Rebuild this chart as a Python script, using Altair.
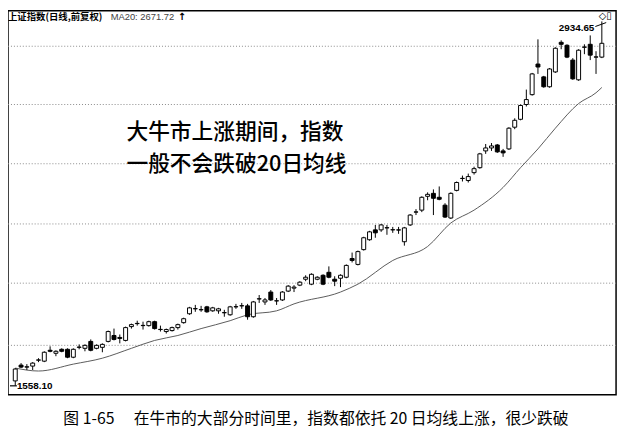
import altair as alt
import pandas as pd

# ---- candle data ----
opens = [1576.2, 1635.9, 1628.4, 1632.2, 1654.5, 1650.8, 1691.9, 1680.6, 1695.6, 1695.6,
         1665.7, 1703.0, 1699.3, 1725.4, 1699.3, 1703.0, 1725.4, 1747.8, 1740.4, 1729.1,
         1781.4, 1792.6, 1785.1, 1785.1, 1800.0, 1770.2, 1762.7, 1766.4, 1777.6, 1796.3,
         1829.9, 1848.5, 1844.8, 1856.0, 1841.0, 1841.0, 1833.6, 1826.1, 1856.0, 1859.7,
         1859.7, 1818.7, 1885.8, 1874.6, 1911.9, 1878.3, 1882.1, 1915.6, 1926.8, 1938.0,
         1960.4, 1941.7, 1960.4, 1975.3, 1986.5, 1960.4, 1964.1, 1967.9, 2038.7, 2016.3,
         2072.3, 2109.6, 2146.9, 2146.9, 2154.4, 2146.9, 2146.9, 2102.1, 2165.6, 2214.0,
         2221.5, 2273.7, 2284.9, 2270.0, 2240.2, 2191.7, 2296.1, 2340.9, 2333.4, 2363.2,
         2381.9, 2445.3, 2456.5, 2467.7, 2445.3, 2452.8, 2534.8, 2564.7, 2620.6, 2657.9,
         2773.5, 2725.0, 2687.7, 2743.7, 2855.6, 2844.4, 2788.5, 2713.9, 2836.9, 2848.1,
         2799.7, 2799.7]
closes = [1621.0, 1628.4, 1629.5, 1643.4, 1655.5, 1684.4, 1688.1, 1688.1, 1688.1, 1665.7,
          1695.6, 1704.0, 1710.5, 1691.9, 1710.5, 1714.2, 1762.7, 1732.9, 1736.6, 1777.6,
          1788.8, 1793.5, 1786.0, 1800.0, 1773.9, 1771.0, 1770.2, 1777.6, 1788.8, 1811.2,
          1852.2, 1849.4, 1845.6, 1837.3, 1852.2, 1848.5, 1834.4, 1856.0, 1856.8, 1860.5,
          1818.7, 1874.6, 1886.6, 1882.1, 1882.1, 1879.1, 1911.9, 1934.3, 1930.6, 1949.2,
          1967.9, 1979.0, 1967.9, 1941.7, 1967.9, 1953.0, 1975.3, 2012.6, 2031.3, 2064.8,
          2117.1, 2139.4, 2135.7, 2165.6, 2155.2, 2147.7, 2146.2, 2154.4, 2202.9, 2214.8,
          2270.0, 2281.2, 2266.3, 2262.5, 2195.4, 2284.9, 2325.9, 2341.7, 2348.3, 2378.2,
          2434.1, 2456.5, 2464.0, 2441.6, 2437.8, 2531.1, 2560.9, 2616.9, 2639.3, 2736.2,
          2762.3, 2687.7, 2754.9, 2833.2, 2848.1, 2799.7, 2717.6, 2825.8, 2837.7, 2807.1,
          2800.5, 2851.9]
highs = [1624.7, 1643.4, 1639.6, 1647.1, 1662.0, 1688.1, 1706.8, 1691.9, 1699.3, 1699.3,
         1699.3, 1714.2, 1714.2, 1732.9, 1714.2, 1718.0, 1766.4, 1773.9, 1751.5, 1781.4,
         1792.6, 1803.7, 1800.0, 1803.7, 1803.7, 1785.1, 1773.9, 1781.4, 1792.6, 1815.0,
         1856.0, 1863.4, 1859.7, 1859.7, 1856.0, 1852.2, 1844.8, 1859.7, 1867.2, 1870.9,
         1867.2, 1878.3, 1900.7, 1889.5, 1919.4, 1889.5, 1915.6, 1938.0, 1938.0, 1953.0,
         1975.3, 1982.8, 1971.6, 1979.0, 2008.9, 1971.6, 1979.0, 2016.3, 2061.1, 2068.6,
         2120.8, 2143.2, 2165.6, 2169.3, 2165.6, 2158.1, 2158.1, 2158.1, 2206.6, 2225.2,
         2273.7, 2288.6, 2299.8, 2311.0, 2247.6, 2288.6, 2329.7, 2352.0, 2359.5, 2385.6,
         2437.8, 2471.4, 2475.1, 2471.4, 2452.8, 2534.8, 2568.4, 2620.6, 2677.0, 2740.0,
         2866.8, 2728.8, 2758.6, 2836.9, 2863.1, 2848.1, 2795.9, 2829.5, 2848.1, 2881.7,
         2822.0, 2934.65]
lows = [1558.10, 1624.7, 1617.2, 1617.2, 1647.1, 1647.1, 1684.4, 1669.5, 1684.4, 1662.0,
        1662.0, 1695.6, 1688.1, 1688.1, 1695.6, 1684.4, 1721.7, 1729.1, 1718.0, 1725.4,
        1773.9, 1785.1, 1770.2, 1781.4, 1770.2, 1762.7, 1755.2, 1762.7, 1770.2, 1792.6,
        1826.1, 1837.3, 1837.3, 1833.6, 1837.3, 1829.9, 1818.7, 1822.4, 1848.5, 1848.5,
        1807.5, 1814.9, 1870.9, 1863.4, 1878.3, 1863.4, 1878.3, 1911.9, 1911.9, 1934.3,
        1953.0, 1938.0, 1956.7, 1938.0, 1964.1, 1934.3, 1930.6, 1964.1, 2023.8, 2012.6,
        2068.6, 2105.9, 2117.1, 2139.4, 2128.3, 2135.7, 2131.9, 2087.2, 2161.8, 2202.9,
        2214.0, 2258.8, 2202.9, 2258.8, 2191.7, 2188.0, 2292.4, 2329.7, 2325.9, 2355.8,
        2378.2, 2434.1, 2445.3, 2437.8, 2422.9, 2449.0, 2527.4, 2560.9, 2613.2, 2654.2,
        2736.2, 2684.0, 2684.0, 2740.0, 2829.5, 2795.9, 2713.9, 2710.1, 2810.8, 2788.5,
        2736.2, 2795.9]
days = list(range(len(opens)))

# ---- MA20 line (read at selected days) ----
ma_days = [0, 4, 10, 15, 20, 24, 28, 32, 37, 40, 45, 48, 56, 59, 65, 71, 75, 79, 84, 87,
           90, 93, 97, 100, 101]
ma_values = [1624.7, 1613.5, 1639.6, 1662.0, 1699.3, 1729.1, 1747.8, 1773.9, 1803.7, 1826.1,
             1841.0, 1867.2, 1911.9, 1941.7, 2031.3, 2084.0, 2173.0, 2221.5, 2307.3, 2381.9,
             2452.8, 2531.1, 2624.3, 2665.0, 2685.0]

# ---- horizontal dotted grid levels ----
grid_values = [1710.5, 1945.5, 2169.3, 2396.8, 2620.6, 2840.7]

header_text = "上证指数(日线,前复权)"
ma_text = "MA20: 2671.72"
max_label = "2934.65"
min_label = "1558.10"
note_line1 = "大牛市上涨期间，指数"
note_line2 = "一般不会跌破20日均线"
caption = "图 1-65　 在牛市的大部分时间里，指数都依托 20 日均线上涨，很少跌破"

df = pd.DataFrame({"d": days, "o": opens, "c": closes, "h": highs, "l": lows})
ma_df = pd.DataFrame({"d": ma_days, "ma": ma_values})
grid_df = pd.DataFrame({"g": grid_values})

W, H = 616, 389
xs = alt.Scale(domain=[-0.4, 102.6], nice=False, zero=False)
ys = alt.Scale(domain=[1524, 2975], nice=False, zero=False)

grid = alt.Chart(grid_df).mark_rule(color="#8a8a8a", strokeWidth=1, strokeDash=[1, 2]).encode(
    y=alt.Y("g:Q", scale=ys, axis=None)
)

base = alt.Chart(df)
wick = base.mark_rule(color="black", strokeWidth=1).encode(
    x=alt.X("d:Q", scale=xs, axis=None),
    y=alt.Y("l:Q", scale=ys, axis=None),
    y2="h:Q",
)
body = base.mark_bar(width=4, stroke="black", strokeWidth=1).encode(
    x=alt.X("d:Q", scale=xs, axis=None),
    y=alt.Y("o:Q", scale=ys, axis=None),
    y2="c:Q",
    fill=alt.condition("datum.c >= datum.o", alt.value("white"), alt.value("black")),
)
ma = alt.Chart(ma_df).mark_line(color="#5a5a5a", strokeWidth=1, interpolate="monotone").encode(
    x=alt.X("d:Q", scale=xs, axis=None),
    y=alt.Y("ma:Q", scale=ys, axis=None),
)

def txt(text, x, y, size, weight="normal", color="black", align="left", font="Noto Sans CJK SC"):
    return alt.Chart(pd.DataFrame({"t": [text]})).mark_text(
        align=align, baseline="middle", fontSize=size, fontWeight=weight, color=color, font=font
    ).encode(text="t:N", x=alt.value(x), y=alt.value(y))

header = txt(header_text, 0, 6, 9.5, weight="bold")
ma_lbl = txt(ma_text, 104, 6, 9.5, color="#444", font="Liberation Sans")
ma_arrow = txt("↑", 172, 6, 10, weight="bold", font="DejaVu Sans")
icons = txt("◇▯", 605, 5, 10, align="center", font="DejaVu Sans")
max_lbl = txt(max_label, 594, 18, 10, weight="bold", align="right", font="Liberation Sans")
min_lbl = txt(min_label, 9, 380, 10, weight="bold", font="Liberation Sans")
note1 = txt(note_line1, 120, 123, 22, weight=500)
note2 = txt(note_line2, 120, 155, 22, weight=500)
cap = txt(caption, 312, 414, 16, align="center")

max_ptr = alt.Chart(pd.DataFrame({"t": [0]})).mark_rule(color="black", strokeWidth=1).encode(
    x=alt.value(595), x2=alt.value(606), y=alt.value(16), y2=alt.value(12)
)
min_ptr = alt.Chart(pd.DataFrame({"t": [0]})).mark_rule(color="black", strokeWidth=1.2).encode(
    x=alt.value(2), x2=alt.value(9), y=alt.value(380)
)

chart = alt.layer(
    grid, ma, wick, body, header, ma_lbl, ma_arrow, icons, max_lbl, min_lbl,
    max_ptr, min_ptr, note1, note2, cap
).properties(
    width=W, height=H,
    padding={"left": 0, "top": 0, "right": 5, "bottom": 34},
    autosize=alt.AutoSizeParams(type="none"),
).configure_view(stroke="black", strokeWidth=1.5)

chart.save("out.html", embed_options={"renderer": "svg", "actions": False})
